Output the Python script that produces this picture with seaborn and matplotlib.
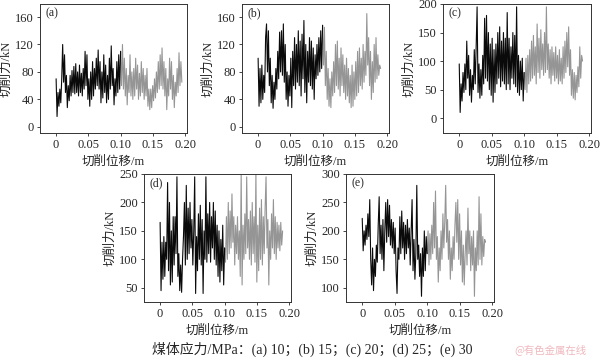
import numpy as np
import pandas as pd
import matplotlib
matplotlib.use("Agg")
import matplotlib.pyplot as plt
import seaborn as sns

sns.set_style("ticks")
plt.rcParams['font.family'] = ['Liberation Serif', 'Noto Sans CJK SC', 'DejaVu Sans']
plt.rcParams['axes.unicode_minus'] = False

# ---------------- data ----------------
panel_labels = ["(a)", "(b)", "(c)", "(d)", "(e)"]
x_end = [0.195, 0.19, 0.19, 0.19, 0.19]

force_a_black = [70, 15, 50, 30, 55, 35, 70, 120, 65, 105,
                 50, 75, 28, 60, 38, 75, 45, 82, 50, 88,
                 48, 92, 50, 80, 45, 90, 50, 78, 45, 85,
                 55, 110, 60, 105, 40, 70, 30, 80, 40, 95,
                 45, 85, 55, 100, 60, 112, 55, 95, 35, 80,
                 42, 105, 50, 90, 35, 75, 40, 100, 55, 118,
                 60, 85, 32, 70, 45, 95, 50, 105, 55, 110]
force_a_gray = [110, 60, 120, 55, 100, 45, 85, 32, 75, 50,
                105, 45, 80, 40, 85, 45, 100, 55, 90, 40,
                78, 45, 95, 50, 85, 40, 75, 45, 85, 30,
                55, 25, 55, 28, 60, 38, 70, 42, 80, 50,
                95, 55, 105, 60, 115, 55, 95, 45, 85, 25,
                70, 45, 100, 55, 95, 40, 75, 28, 65, 45,
                85, 50, 108, 60, 95, 65]

force_b_black = [100, 30, 85, 35, 90, 40, 75, 50, 130, 150,
                 80, 140, 60, 100, 35, 75, 27, 65, 40, 85,
                 55, 110, 70, 138, 80, 140, 75, 150, 65, 120,
                 40, 80, 30, 75, 45, 100, 28, 110, 60, 130,
                 55, 120, 65, 140, 60, 125, 45, 135, 70, 155,
                 50, 120, 35, 110, 65, 130, 60, 125, 55, 115,
                 40, 105, 70, 120, 75, 130, 80, 140, 85, 148]
force_b_gray = [148, 90, 145, 60, 110, 40, 85, 30, 70, 28,
                80, 45, 95, 50, 120, 60, 125, 55, 100, 45,
                115, 60, 105, 50, 90, 40, 100, 45, 85, 35,
                75, 28, 90, 30, 80, 40, 95, 45, 110, 50,
                115, 60, 100, 55, 120, 65, 110, 75, 165, 90,
                130, 60, 110, 40, 95, 50, 120, 65, 130, 70,
                105, 75, 90, 85]

force_c_black = [95, 10, 60, 30, 80, 45, 95, 50, 135, 70,
                 110, 40, 85, 28, 75, 50, 120, 60, 125, 195,
                 45, 95, 35, 85, 40, 110, 60, 175, 70, 180,
                 65, 150, 50, 130, 40, 140, 28, 120, 45, 130,
                 60, 150, 70, 160, 55, 135, 65, 150, 60, 140,
                 50, 185, 60, 140, 50, 125, 70, 150, 60, 145,
                 55, 195, 45, 110, 40, 100, 50, 105, 30, 80]
force_c_gray = [80, 50, 105, 45, 110, 60, 120, 65, 135, 70,
                145, 75, 125, 60, 165, 80, 140, 70, 155, 85,
                130, 75, 150, 80, 195, 85, 130, 70, 120, 60,
                125, 75, 115, 65, 125, 70, 110, 60, 120, 65,
                105, 60, 125, 70, 135, 80, 150, 90, 160, 75,
                120, 40, 85, 35, 80, 32, 75, 45, 90, 55,
                125, 70, 110, 100]

force_d_black = [165, 45, 130, 65, 140, 70, 130, 100, 235, 80,
                 200, 55, 150, 60, 175, 90, 175, 110, 245, 70,
                 110, 45, 90, 42, 100, 140, 200, 90, 230, 100,
                 190, 110, 200, 120, 170, 90, 150, 245, 40, 140,
                 80, 180, 100, 195, 90, 170, 40, 150, 100, 245,
                 95, 180, 110, 200, 95, 175, 120, 200, 100, 185,
                 90, 160, 70, 150, 60, 135, 80, 160, 55, 120]
force_d_gray = [120, 95, 175, 100, 200, 110, 185, 120, 215, 130,
                175, 90, 160, 110, 175, 100, 150, 70, 250, 55,
                160, 100, 180, 110, 245, 120, 170, 100, 185, 90,
                200, 110, 175, 95, 250, 60, 160, 80, 190, 100,
                205, 90, 175, 110, 190, 245, 120, 170, 55, 150,
                100, 180, 120, 205, 110, 175, 100, 165, 120, 160,
                115, 165, 125, 150]

force_e_black = [222, 165, 200, 175, 210, 185, 230, 190, 255, 150,
                 105, 170, 95, 150, 120, 175, 145, 210, 260, 160,
                 210, 150, 220, 130, 200, 250, 180, 255, 190, 245,
                 175, 220, 170, 215, 160, 205, 130, 90, 170, 150,
                 225, 160, 235, 170, 215, 150, 210, 160, 220, 170,
                 205, 140, 200, 255, 130, 185, 115, 160, 280, 150,
                 175, 120, 160, 85, 170, 120, 200, 130, 190, 160]
force_e_gray = [160, 200, 140, 195, 150, 210, 160, 250, 170, 270,
                150, 190, 110, 170, 130, 200, 150, 230, 170, 215,
                280, 180, 220, 150, 200, 115, 170, 130, 190, 150,
                210, 250, 180, 255, 150, 230, 140, 200, 110, 175,
                105, 160, 200, 140, 240, 160, 200, 130, 190, 140,
                200, 85, 170, 130, 200, 140, 260, 150, 230, 140,
                190, 155, 185, 180]

blacks = [force_a_black, force_b_black, force_c_black, force_d_black, force_e_black]
grays = [force_a_gray, force_b_gray, force_c_gray, force_d_gray, force_e_gray]

y_limits = [(-9, 179), (-9, 179), (-26, 200), (25, 250), (75, 300)]
y_ticks = [[0, 40, 80, 120, 160], [0, 40, 80, 120, 160], [0, 50, 100, 150, 200],
           [50, 100, 150, 200, 250], [100, 150, 200, 250, 300]]
x_ticks = [0, 0.05, 0.10, 0.15, 0.20]
x_tick_labels = ["0", "0.05", "0.10", "0.15", "0.20"]
x_label = "切削位移/m"
y_label = "切削力/kN"
caption = "煤体应力/MPa：(a) 10；(b) 15；(c) 20；(d) 25；(e) 30"
watermark = "@有色金属在线"

# ---------------- layout ----------------
W, H = 600, 359
fig = plt.figure(figsize=(6.0, 3.59), dpi=100)

def px_axes(l, t, r, b):
    return fig.add_axes([l / W, 1 - b / H, (r - l) / W, (b - t) / H])

boxes = [(40, 4, 187, 133), (242, 4, 389, 133), (443, 4, 591, 133),
         (144, 174, 291, 302), (346, 174, 494, 302)]

fam = ['Liberation Serif', 'Noto Sans CJK SC']
for k in range(5):
    ax = px_axes(*boxes[k])
    yb = np.asarray(blacks[k], dtype=float)
    yg = np.asarray(grays[k], dtype=float)
    xb = np.linspace(0.0, 0.1, len(yb))
    xg = np.linspace(0.1, x_end[k], len(yg))
    dfb = pd.DataFrame({"x": xb, "y": yb})
    dfg = pd.DataFrame({"x": xg, "y": yg})
    sns.lineplot(data=dfg, x="x", y="y", ax=ax, color="#959595", lw=0.8,
                 sort=False, estimator=None)
    sns.lineplot(data=dfb, x="x", y="y", ax=ax, color="#0a0a0a", lw=0.8,
                 sort=False, estimator=None)
    ax.set_xlim(-0.025, 0.203)
    ax.set_ylim(*y_limits[k])
    ax.set_xticks(x_ticks)
    ax.set_xticklabels(x_tick_labels)
    ax.set_yticks(y_ticks[k])
    ax.tick_params(direction='out', length=2.5, width=0.6, labelsize=9, pad=2)
    for lab in ax.get_xticklabels() + ax.get_yticklabels():
        lab.set_family(fam)
    for s in ax.spines.values():
        s.set_visible(True)
        s.set_linewidth(0.7)
        s.set_color("#333333")
    ax.set_xlabel(x_label, fontsize=9, family=fam, labelpad=3)
    ax.set_ylabel(y_label, fontsize=9, family=fam, labelpad=2)
    ax.text(0.04, 0.93, panel_labels[k], transform=ax.transAxes, fontsize=8.5,
            family=fam, va='center', ha='left')

fig.text(312 / W, 1 - 349 / H, caption, fontsize=10, family=fam,
         ha='center', va='center')
fig.text(550 / W, 1 - 350 / H, watermark, fontsize=7.5,
         family=['Noto Sans CJK SC', 'DejaVu Sans'], color='#efb8bf',
         ha='center', va='center')

fig.savefig("out.png", dpi=100)
